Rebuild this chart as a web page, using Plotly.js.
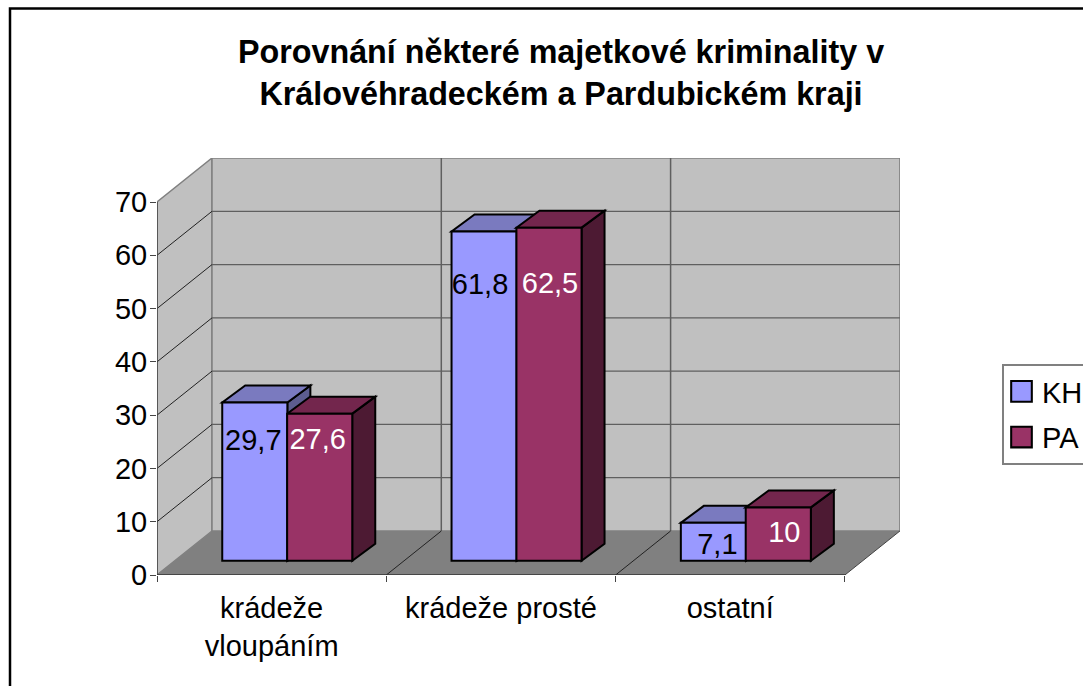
<!DOCTYPE html>
<html>
<head>
<meta charset="utf-8">
<script src="https://cdn.plot.ly/plotly-3.0.1.min.js"></script>
<style>
html,body{margin:0;padding:0;background:#fff;overflow:hidden}
.legend .legendpoints path{transform:translate(19.5px,0px) scale(1.72);stroke-width:1.2px !important}
</style>
</head>
<body>
<div id="chart" style="width:1083px;height:686px"></div>
<script>
// Data
var categories = ['krádeže<br>vloupáním', 'krádeže prosté', 'ostatní'];
var KH = [29.7, 61.8, 7.1];
var PA = [27.6, 62.5, 10];
var seriesNames = ['KH', 'PA'];
var valueTicks = [0, 10, 20, 30, 40, 50, 60, 70];

// Pseudo-3D geometry (in axis units)
var PLOT = {l: 157, r: 900, t: 158, b: 575};
var pxX = 229.3, pxY = 373 / 70;
var wallDX = 55 / pxX, wallDY = 44 / pxY;
var barDX = 23 / pxX, barDY = 17 / pxY;
var floorY = 14.3 / pxY;
var barW = 0.284, offKH = 0.4265, offPA = 0.7095;
var n = categories.length;

var colors = {
  KH: {front: '#9999FF', top: '#7A7ABF', side: '#5C5C8F'},
  PA: {front: '#993366', top: '#73264D', side: '#4D1A33'},
  wall: '#C0C0C0', floor: '#808080', edge: '#808080', grid: '#5f5f5f'
};
// label placement relative to the top of each bar, in pixels
var labelDrop = {KH: [40, 55, 24], PA: [28, 58, 27]};
var labelShift = {KH: [-1.5, -4, 4], PA: [-2, 1, 6]};

function poly(pts, fill, line, w) {
  return {type: 'path', xref: 'x', yref: 'y', layer: 'below',
    path: 'M' + pts.map(function (p) { return p[0] + ',' + p[1]; }).join('L') + 'Z',
    fillcolor: fill, line: {color: line || fill, width: w === undefined ? 1 : w}};
}
function seg(x0, y0, x1, y1, c, w) {
  return {type: 'line', xref: 'x', yref: 'y', layer: 'below', x0: x0, y0: y0, x1: x1, y1: y1,
    line: {color: c, width: w || 1}};
}
function px2paperX(p) { return (p - PLOT.l) / (PLOT.r - PLOT.l); }
function px2paperY(p) { return (PLOT.b - p) / (PLOT.b - PLOT.t); }

var axisTop = valueTicks[valueTicks.length - 1];
var shapes = [];
// outer chart border
shapes.push({type: 'rect', xref: 'paper', yref: 'paper', layer: 'below',
  x0: px2paperX(10), x1: px2paperX(1120), y0: px2paperY(720), y1: px2paperY(8.5),
  line: {color: '#000', width: 2.5}, fillcolor: 'rgba(0,0,0,0)'});
// walls and floor
shapes.push(poly([[0, 0], [0, axisTop], [wallDX, axisTop + wallDY], [wallDX, wallDY]], colors.wall, colors.edge, 1.5));
shapes.push(poly([[wallDX, wallDY], [wallDX, axisTop + wallDY], [n + wallDX, axisTop + wallDY], [n + wallDX, wallDY]], colors.wall, colors.edge, 1.5));
shapes.push(poly([[0, 0], [wallDX, wallDY], [n + wallDX, wallDY], [n, 0]], colors.floor, colors.floor, 0));
// gridlines
valueTicks.slice(1, -1).forEach(function (v) {
  shapes.push(seg(0, v, wallDX, v + wallDY, '#222'));
  shapes.push(seg(wallDX, v + wallDY, n + wallDX, v + wallDY, colors.grid, 1.3));
});
for (var i = 1; i < n; i++) {
  shapes.push(seg(i + wallDX, wallDY, i + wallDX, axisTop + wallDY, colors.grid, 1.5));
  shapes.push(seg(i, 0, i + wallDX, wallDY, '#222'));
}
shapes.push(seg(n, 0, n + wallDX, wallDY, '#444'));
// axis lines
shapes.push(seg(0, 0, 0, axisTop, '#444', 1.5));
shapes.push(seg(0, 0, n, 0, '#333', 1.5));

// 3D caps and sides of every bar, derived from the values
function addCaps(vals, off, c) {
  vals.forEach(function (v, k) {
    var x0 = k + off - barW / 2, x1 = k + off + barW / 2, yT = floorY + v;
    shapes.push(poly([[x1, floorY], [x1, yT], [x1 + barDX, yT + barDY], [x1 + barDX, floorY + barDY]], c.side, '#000', 2));
    shapes.push(poly([[x0, yT], [x1, yT], [x1 + barDX, yT + barDY], [x0 + barDX, yT + barDY]], c.top, '#000', 2));
  });
}
addCaps(KH, offKH, colors.KH);
addCaps(PA, offPA, colors.PA);

function xs(off) { return categories.map(function (_, k) { return k + off; }); }
function barTrace(name, vals, off, c) {
  return {type: 'bar', name: name, legendgroup: name, x: xs(off), y: vals,
    base: vals.map(function () { return floorY; }), width: barW,
    marker: {color: c.front, line: {color: '#000', width: 2}},
    hoverinfo: 'skip', cliponaxis: false};
}
function labelTrace(name, vals, off, color, drop, shift) {
  return {type: 'scatter', mode: 'text', showlegend: false, hoverinfo: 'skip',
    x: vals.map(function (_, k) { return k + off + shift[k] / pxX; }),
    y: vals.map(function (v, k) { return floorY + v - drop[k] / pxY; }),
    text: vals.map(function (v) { return String(v).replace('.', ','); }),
    textposition: 'middle center', cliponaxis: false,
    textfont: {family: 'Liberation Sans, Arial, sans-serif', size: 29, color: color}};
}

var data = [
  barTrace(seriesNames[0], KH, offKH, colors.KH),
  barTrace(seriesNames[1], PA, offPA, colors.PA),
  labelTrace('lKH', KH, offKH, '#000', labelDrop.KH, labelShift.KH),
  labelTrace('lPA', PA, offPA, '#fff', labelDrop.PA, labelShift.PA)
];

var font = {family: 'Liberation Sans, Arial, sans-serif', size: 29, color: '#000'};
var layout = {
  width: 1083, height: 686,
  margin: {l: PLOT.l, r: 1083 - PLOT.r, t: PLOT.t, b: 686 - PLOT.b, pad: 0, autoexpand: false},
  paper_bgcolor: '#fff', plot_bgcolor: 'rgba(0,0,0,0)',
  barmode: 'overlay', font: font,
  title: {text: 'Porovnání některé majetkové kriminality v<br>Královéhradeckém a Pardubickém kraji',
    font: {family: font.family, size: 32.3, color: '#000', weight: 700},
    x: 561 / 1083, xref: 'container', xanchor: 'center', y: 1 - 63 / 686, yref: 'container', yanchor: 'middle'},
  xaxis: {range: [0, (PLOT.r - PLOT.l) / pxX], showgrid: false, zeroline: false, showline: false,
    tickmode: 'array', tickvals: categories.map(function (_, k) { return k + 0.5; }), ticktext: categories,
    ticks: '', tickfont: font, tickangle: 0, ticklabelstandoff: 13,
    minor: {tickmode: 'array', tickvals: [0, 1, 2, 3], ticks: 'outside', ticklen: 6, tickcolor: '#444', tickwidth: 1, showgrid: false}},
  yaxis: {range: [0, (PLOT.b - PLOT.t) / pxY], showgrid: false, zeroline: false, showline: false,
    tickmode: 'array', tickvals: valueTicks, ticks: 'outside', ticklen: 6, tickcolor: '#444', tickwidth: 1,
    tickfont: font, ticklabelstandoff: -3},
  legend: {x: px2paperX(1002), xanchor: 'left', y: px2paperY(364), yanchor: 'top', font: font,
    bgcolor: '#fff', bordercolor: '#808080', borderwidth: 2, traceorder: 'grouped', tracegroupgap: 5,
    indentation: -2, itemclick: false, itemdoubleclick: false},
  shapes: shapes,
  showlegend: true
};
Plotly.newPlot('chart', data, layout, {displayModeBar: false, staticPlot: true});
</script>
</body>
</html>
